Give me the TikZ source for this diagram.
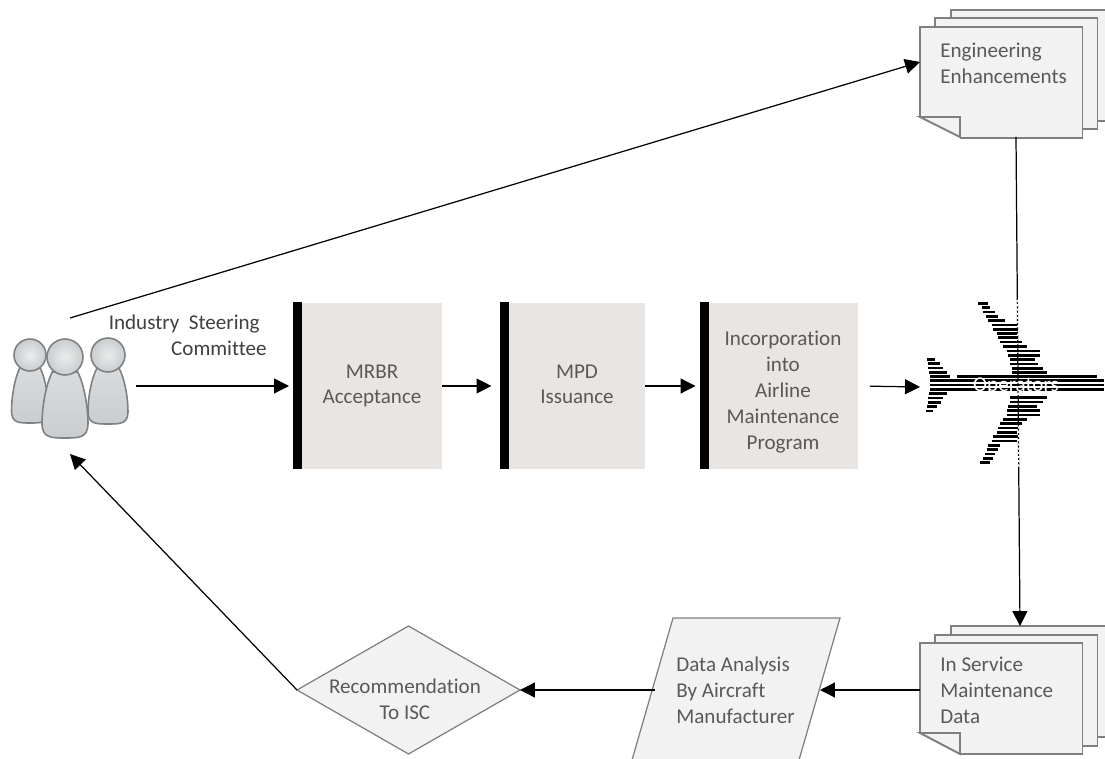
\documentclass[tikz,border=0pt]{standalone}
\usepackage{fontspec}
\setmainfont{Carlito}[Ligatures=NoCommon]
\usepackage{tikz}
\usetikzlibrary{arrows.meta, shapes.geometric}

\definecolor{textgray}{HTML}{595959}
\definecolor{pagefill}{HTML}{F2F2F2}
\definecolor{pageline}{HTML}{7F7F7F}
\definecolor{bookfill}{HTML}{E9E5E3}
\definecolor{peoplefill}{HTML}{C9CDD0}

\tikzset{
    word/.style={text=textgray, font=\fontsize{12}{14.7}\selectfont, inner sep=0pt},
    flow/.style={line width=0.7pt, -{Triangle[length=8.5pt, width=8.5pt]}},
    book/.style={fill=bookfill, minimum width=#1*0.02cm, minimum height=3.34cm, inner sep=0pt, outer sep=0pt, word, align=center},
    page/.style={draw=pageline, fill=pagefill, line width=1.1pt, inner sep=0pt, outer sep=0pt, minimum height=2.22cm, minimum width=3.25cm, anchor=north west},
    plane/.style={line width=1.6pt, black}
}

\begin{document}
\begin{tikzpicture}[x=0.02cm, y=-0.02cm]
        \useasboundingbox (0,0) rectangle (1105,759);

        % people
        \foreach \cx/\ty/\by/\hw/\hy/\hr in {30/368/423/18.5/355/16, 108/368/424/20/355/17, 65/372/438/23/357/18} {
            \pgfmathsetmacro{\hh}{\by-\ty}
            \draw[draw=gray, line width=0.9pt, top color=peoplefill!70, bottom color=peoplefill]
                ({\cx-0.55*\hw},\ty) .. controls ({\cx-0.85*\hw},{\ty+0.2*\hh}) and ({\cx-\hw},{\ty+0.55*\hh}) .. ({\cx-\hw},{\ty+0.78*\hh})
                .. controls ({\cx-\hw},{\by}) and ({\cx-0.6*\hw},\by) .. (\cx,\by)
                .. controls ({\cx+0.6*\hw},\by) and ({\cx+\hw},{\by}) .. ({\cx+\hw},{\ty+0.78*\hh})
                .. controls ({\cx+\hw},{\ty+0.55*\hh}) and ({\cx+0.85*\hw},{\ty+0.2*\hh}) .. ({\cx+0.55*\hw},\ty) -- cycle;
            \draw[draw=gray, line width=0.9pt, inner color=gray!15, outer color=peoplefill] (\cx,\hy) circle (\hr);
        }
        \coordinate (peoplein) at (70,454);
        \coordinate (peopleout) at (136,386);
        \coordinate (peopletop) at (70,318);
        \node[word, text=black!75, align=right, anchor=east] (isc) at (267,335) {Industry~~Steering\hspace*{4pt}\\Committee};

        % books
        \node[book=140] (mrbr) at (372,386) {MRBR\\Acceptance};
        \node[book=136] (mpd) at (577,386) {MPD\\Issuance\vphantom{p}};
        \node[book=149] (inco) at (783,386) {};
        \node[word, align=center] (incotext) at (783,392) {Incorporation\\into\\Airline\\Maintenance\\Program};
        \foreach \b in {mrbr, mpd, inco} {
            \fill[black] (\b.south west) rectangle ++(-9,-167);
        }

        % top stack
        \node[page] (engback) at (951,10) {};
        \node[page] (engmid) at (935,18) {};
        \node[page] (eng) at (920,27) {};
        \fill[white] (918,116) -- (918,141) -- (960,141) -- (960,137) -- cycle;
        \draw[draw=pageline, fill=pagefill, line width=1.1pt] (920,117) -- (960,137) -- (960,117) -- cycle;
        \node[word, align=left, anchor=west] (engtext) at (940,63) {Engineering\\Enhancements};
        \coordinate (engin) at (920,62);
        \coordinate (engout) at (1016,137);

        % bottom stack
        \node[page] (databack) at (951,626) {};
        \node[page] (datamid) at (935,635) {};
        \node[page] (data) at (920,643) {};
        \fill[white] (918,732) -- (918,759) -- (960,759) -- (960,754) -- cycle;
        \draw[draw=pageline, fill=pagefill, line width=1.1pt] (920,733) -- (960,754) -- (960,733) -- cycle;
        \node[word, align=left, anchor=west] (datatext) at (940,690) {In Service\\Maintenance\\Data};
        \coordinate (datain) at (1020,626);
        \coordinate (dataout) at (920,690);

        % analysis
        \draw[draw=pageline, fill=pagefill, line width=0.7pt] (673,618) -- (840,618) -- (799,760) -- (632,760) -- cycle;
        \node[word, align=left, anchor=west] (analysis) at (676,690) {Data Analysis\\By Aircraft\\Manufacturer};
        \coordinate (analysisin) at (820,690);
        \coordinate (analysisout) at (655,690);

        % diamond
        \node[diamond, draw=pageline, fill=pagefill, line width=0.7pt, inner sep=0pt, outer sep=0pt, aspect=1.74, minimum width=4.46cm, minimum height=2.56cm] (rec) at (408.5,690) {};
        \node[word, align=center] (rectext) at (405,699) {Recommendation\\To ISC};

        % plane
        \coordinate (planein) at (920,387);
        \draw[flow] (peopletop) -- (engin);
        \draw[flow, shorten >=7.4pt] (peopleout) -- (mrbr.west);
        \draw[flow, shorten >=10pt] (mrbr.east) -- (mpd.west);
        \draw[flow, shorten >=7.4pt] (mpd.east) -- (inco.west);
        \draw[flow, shorten <=7pt] (inco.east) -- (planein);
        \draw[flow] (engout) -- (datain);
        \draw[flow] (dataout) -- (analysisin);
        \draw[flow] (analysisout) -- (rec.east);
        \draw[flow] (rec.west) -- (peoplein);

        \draw[white, line width=1pt, dash pattern=on 1.2pt off 1.2pt] (1017.3,300) -- (1018.7,468);
        \foreach \r/\a/\b in {40/235/265, 53/245/270, 66/250/285, 79/257/295, 92/265/315, 105/275/350, 118/280/355, 130/290/350, 143/295/355, 156/300/365, 170/310/380, 183/320/420, 196/325/420, 209/330/405, 222/330/415, 235/335/430, 248/335/440, 260/170/590, 272/90/612, 285/90/612, 298/90/612, 323/330/440, 336/330/430, 349/325/410, 362/320/420, 375/320/420, 388/310/380, 401/300/365, 414/295/355, 427/290/350, 440/280/355, 453/275/350, 466/265/300, 479/262/295, 492/255/285, 505/250/278, 518/240/270, 208/80/105, 221/83/120, 234/85/128, 247/88/140, 260/90/150, 311/88/140, 324/85/130, 337/83/122, 350/80/110, 363/78/100} {
            \draw[plane] ({900+\a/3},{290+\r/3}) -- ({900+\b/3},{290+\r/3});
        }
        \node[word, text=white] (operators) at (1016,386) {Operators};
\end{tikzpicture}
\end{document}
